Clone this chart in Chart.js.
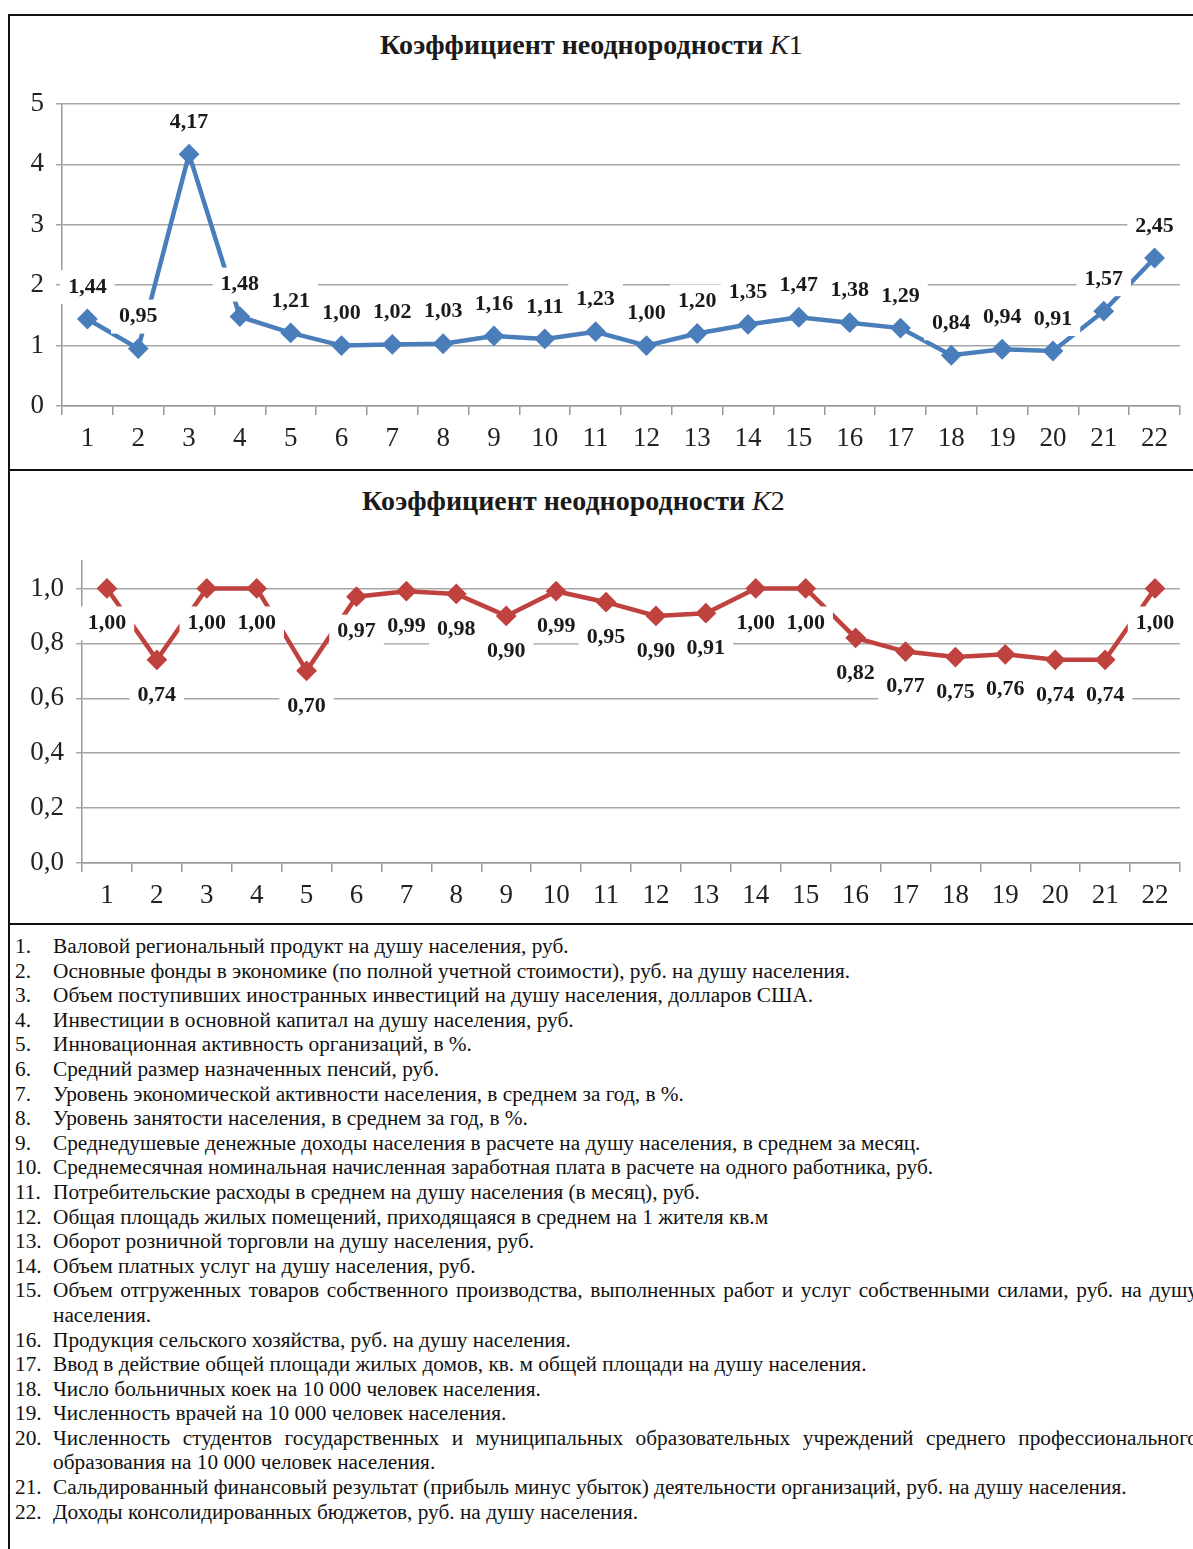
<!DOCTYPE html>
<html lang="ru">
<head>
<meta charset="utf-8">
<title>Коэффициенты неоднородности K1, K2</title>
<script src="https://cdn.jsdelivr.net/npm/chart.js@4.4.1/dist/chart.umd.min.js"></script>
<style>
  body { margin: 0; width: 1193px; height: 1549px; overflow: hidden; background: #fff; position: relative;
         font-family: "Liberation Serif", "DejaVu Serif", serif; color: #111; }
  .box { position: absolute; left: 8px; width: 1200px; border-left: 2px solid #111; border-top: 2px solid #111; }
  .chartWrap { position: absolute; left: 0; width: 1193px; }
  .title { position: absolute; font-weight: bold; font-size: 28px; white-space: nowrap; color: #1a1a1a; }
  .title .k { font-style: italic; font-weight: normal; }
  .title .n { font-weight: normal; }
  .notes { position: absolute; left: 0; top: 934px; width: 1198px; font-size: 21.3px; line-height: 24.6px; }
  .notes div { position: relative; padding-left: 53px; text-align: justify; }
  .notes span { position: absolute; left: 15px; }
</style>
</head>
<body>
<div class="box" style="top:14px;height:453px;border-bottom:2px solid #111"></div>
<div class="box" style="top:469px;height:452px;border-bottom:2px solid #111"></div>
<div class="box" style="top:923px;height:640px;border-top:none"></div>

<div class="title" style="left:380px;top:29px">Коэффициент неоднородности <span class="k">K</span><span class="n">1</span></div>
<div class="title" style="left:362px;top:485px">Коэффициент неоднородности <span class="k">K</span><span class="n">2</span></div>

<div class="chartWrap" style="top:0;height:468px"><canvas id="chartK1"></canvas></div>
<div class="chartWrap" style="top:470px;height:452px"><canvas id="chartK2"></canvas></div>

<div class="notes" id="notes"></div>

<script>
// indicator numbers 1..22
const indicators = ['1','2','3','4','5','6','7','8','9','10','11','12','13','14','15','16','17','18','19','20','21','22'];

// coefficient K1
const k1Values = [1.44, 0.95, 4.17, 1.48, 1.21, 1.00, 1.02, 1.03, 1.16, 1.11, 1.23,
                  1.00, 1.20, 1.35, 1.47, 1.38, 1.29, 0.84, 0.94, 0.91, 1.57, 2.45];

// coefficient K2
const k2Values = [1.00, 0.74, 1.00, 1.00, 0.70, 0.97, 0.99, 0.98, 0.90, 0.99, 0.95,
                  0.90, 0.91, 1.00, 1.00, 0.82, 0.77, 0.75, 0.76, 0.74, 0.74, 1.00];

const k1Ticks = [0, 1, 2, 3, 4, 5];
const k2Ticks = [0, 0.2, 0.4, 0.6, 0.8, 1.0];

const notes = [
  'Валовой региональный продукт на душу населения, руб.',
  'Основные фонды в экономике (по полной учетной стоимости), руб. на душу населения.',
  'Объем поступивших иностранных инвестиций на душу населения, долларов США.',
  'Инвестиции в основной капитал на душу населения, руб.',
  'Инновационная активность организаций, в %.',
  'Средний размер назначенных пенсий, руб.',
  'Уровень экономической активности населения, в среднем за год, в %.',
  'Уровень занятости населения, в среднем за год, в %.',
  'Среднедушевые денежные доходы населения в расчете на душу населения, в среднем за месяц.',
  'Среднемесячная номинальная начисленная заработная плата в расчете на одного работника, руб.',
  'Потребительские расходы в среднем на душу населения (в месяц), руб.',
  'Общая площадь жилых помещений, приходящаяся в среднем на 1 жителя кв.м',
  'Оборот розничной торговли на душу населения, руб.',
  'Объем платных услуг на душу населения, руб.',
  'Объем отгруженных товаров собственного производства, выполненных работ и услуг собственными силами, руб. на душу населения.',
  'Продукция сельского хозяйства, руб. на душу населения.',
  'Ввод в действие общей площади жилых домов, кв. м общей площади на душу населения.',
  'Число больничных коек на 10 000 человек населения.',
  'Численность врачей на 10 000 человек населения.',
  'Численность студентов государственных и муниципальных образовательных учреждений среднего профессионального образования на 10 000 человек населения.',
  'Сальдированный финансовый результат (прибыль минус убыток) деятельности организаций, руб. на душу населения.',
  'Доходы консолидированных бюджетов, руб. на душу населения.'
];

const notesEl = document.getElementById('notes');
notes.forEach((txt, i) => {
  const row = document.createElement('div');
  row.innerHTML = '<span>' + (i + 1) + '.</span>' + txt;
  notesEl.appendChild(row);
});

const comma = (v, d) => v.toFixed(d).replace('.', ',');

// data labels on white boxes, like the Excel original
const boxLabels = {
  id: 'boxLabels',
  afterDatasetsDraw(chart, args, opts) {
    const ctx = chart.ctx;
    const meta = chart.getDatasetMeta(0);
    const data = chart.data.datasets[0].data;
    ctx.save();
    ctx.font = 'bold 22px "Liberation Serif"';
    ctx.textAlign = 'center';
    ctx.textBaseline = 'middle';
    meta.data.forEach((pt, i) => {
      const text = comma(data[i], 2);
      const y = pt.y + opts.offset;
      const w = ctx.measureText(text).width + 16;
      ctx.fillStyle = '#fff';
      ctx.fillRect(pt.x - w / 2, y - 17, w, 34);
      ctx.fillStyle = '#1a1a1a';
      ctx.fillText(text, pt.x, y);
    });
    ctx.restore();
  }
};

function makeChart(id, values, color, ticks, max, yWidth, pad, labelOffset) {
  const ctx = document.getElementById(id).getContext('2d');
  return new Chart(ctx, {
    type: 'line',
    data: {
      labels: indicators,
      datasets: [{
        data: values,
        borderColor: color,
        backgroundColor: color,
        borderWidth: 4.5,
        pointStyle: 'rectRot',
        pointRadius: 9,
        pointBorderWidth: 2,
        pointBorderColor: color,
        pointBackgroundColor: color,
        tension: 0
      }]
    },
    options: {
      responsive: true,
      maintainAspectRatio: false,
      animation: false,
      layout: { padding: pad },
      plugins: {
        legend: { display: false },
        tooltip: { enabled: false },
        boxLabels: { offset: labelOffset }
      },
      scales: {
        x: {
          offset: true,
          grid: { offset: true, drawOnChartArea: false, drawTicks: true, tickLength: 9, color: '#9a9a9a', lineWidth: 1.5 },
          border: { color: '#9a9a9a', width: 1.5 },
          ticks: { color: '#222', padding: 8, font: { family: 'Liberation Serif', size: 27 } },
          afterFit: s => { s.height = 50; }
        },
        y: {
          min: 0,
          max: max,
          afterBuildTicks: s => { s.ticks = ticks.map(v => ({ value: v })); },
          grid: { color: '#a6a6a6', lineWidth: 1.5, tickLength: 6 },
          border: { color: '#9a9a9a', width: 1.5 },
          ticks: {
            color: '#222',
            padding: 12,
            font: { family: 'Liberation Serif', size: 27 },
            callback: v => max > 2 ? String(v) : comma(v, 1)
          },
          afterFit: s => { s.width = yWidth; }
        }
      }
    },
    plugins: [boxLabels]
  });
}

makeChart('chartK1', k1Values, '#4a7ebb', k1Ticks, 5, 52,
          { top: 104, left: 10, right: 13, bottom: 12 }, -32);
makeChart('chartK2', k2Values, '#c0423f', k2Ticks, 1.1, 72,
          { top: 91, left: 10, right: 13, bottom: 9 }, 35);
</script>
</body>
</html>
